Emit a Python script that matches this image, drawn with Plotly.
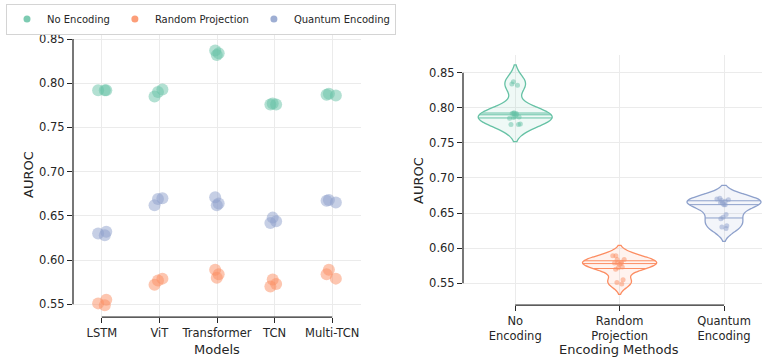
import numpy as np
import plotly.graph_objects as go

# ---------------- data ----------------
models = ["LSTM", "ViT", "Transformer", "TCN", "Multi-TCN"]
encodings = ["No Encoding", "Random Projection", "Quantum Encoding"]
encoding_tick_labels = ["No<br>Encoding", "Random<br>Projection", "Quantum<br>Encoding"]

# AUROC per model (3 runs each), in the order of `models`
auroc_no_encoding = [
    [0.792, 0.792, 0.792],
    [0.793, 0.790, 0.785],
    [0.832, 0.837, 0.834],
    [0.776, 0.777, 0.776],
    [0.786, 0.787, 0.788],
]
auroc_random_projection = [
    [0.555, 0.549, 0.551],
    [0.579, 0.577, 0.572],
    [0.589, 0.580, 0.584],
    [0.578, 0.570, 0.573],
    [0.589, 0.584, 0.579],
]
auroc_quantum_encoding = [
    [0.628, 0.632, 0.630],
    [0.669, 0.670, 0.662],
    [0.671, 0.664, 0.662],
    [0.642, 0.648, 0.644],
    [0.668, 0.667, 0.665],
]
auroc_ticks = [0.55, 0.60, 0.65, 0.70, 0.75, 0.80, 0.85]

series = [auroc_no_encoding, auroc_random_projection, auroc_quantum_encoding]
colors = ["#66c2a5", "#fc8d62", "#8da0cb"]
fills = ["rgba(102,194,165,0.10)", "rgba(252,141,98,0.10)", "rgba(141,160,203,0.10)"]

W, H = 762, 358
FONT = "DejaVu Sans"
INK = "#262626"
GRID = "#ebebeb"

fig = go.Figure()

# ---------------- left: strip plot ----------------
for enc, vals, col in zip(encodings, series, colors):
    xs = [i for i, v in enumerate(vals) for _ in v]
    ys = [y for v in vals for y in v]
    fig.add_trace(go.Box(
        x=xs, y=ys, boxpoints="all", jitter=0.5, pointpos=0, width=0.4,
        fillcolor="rgba(0,0,0,0)", line=dict(color="rgba(0,0,0,0)", width=0),
        marker=dict(color=col, size=12, opacity=0.5, line=dict(width=0)),
        showlegend=False, hoverinfo="skip", xaxis="x", yaxis="y",
    ))

# legend entries
for enc, col in zip(encodings, colors):
    fig.add_trace(go.Scatter(
        x=[None], y=[None], mode="markers", name=enc,
        marker=dict(color=col, size=7, opacity=0.85),
        xaxis="x", yaxis="y",
    ))

# ---------------- right: violins ----------------
VW = 0.71
for j, (vals, col, fc) in enumerate(zip(series, colors, fills)):
    ys = np.array([y for v in vals for y in v])
    n = len(ys)
    bw = np.std(ys, ddof=1) * n ** (-1 / 5)
    fig.add_trace(go.Violin(
        x=[j] * n, y=ys, width=VW, scalemode="width", bandwidth=bw,
        spanmode="soft", points="all", jitter=0.2, pointpos=0,
        marker=dict(color=col, size=5, opacity=0.5),
        line=dict(color=col, width=1.3), fillcolor=fc,
        box_visible=False, meanline_visible=False,
        showlegend=False, hoverinfo="skip", xaxis="x2", yaxis="y2",
    ))
    # quartile lines spanning the KDE width
    grid = np.linspace(ys.min() - 2 * bw, ys.max() + 2 * bw, 600)

    def kde(p):
        return np.exp(-0.5 * ((p[:, None] - ys[None, :]) / bw) ** 2).sum(axis=1)

    dmax = kde(grid).max()
    qs = np.percentile(ys, [25, 50, 75])
    for q in qs:
        half = VW / 2 * kde(np.array([q]))[0] / dmax
        fig.add_trace(go.Scatter(
            x=[j - half, j + half], y=[q, q], mode="lines",
            line=dict(color=col, width=1), showlegend=False,
            hoverinfo="skip", xaxis="x2", yaxis="y2",
        ))

# ---------------- layout ----------------
def px_x(p):
    return p / W

def px_y(p):
    return 1 - p / H

tickfont = dict(family=FONT, size=11.5, color=INK)
titlefont = dict(family=FONT, size=13, color=INK)
common_axis = dict(
    showgrid=True, gridcolor=GRID, gridwidth=1, zeroline=False, showline=False,
    ticks="outside", ticklen=5, tickwidth=1.2, tickcolor=INK, tickfont=tickfont,
    automargin=False,
)

fig.update_layout(
    width=W, height=H, margin=dict(l=0, r=0, t=0, b=0),
    paper_bgcolor="white", plot_bgcolor="white",
    font=dict(family=FONT, color=INK),
    boxmode="overlay", violinmode="overlay",
    xaxis=dict(
        common_axis, domain=[px_x(73), px_x(361)], range=[-0.5, len(models) - 0.5],
        tickmode="array", tickvals=list(range(len(models))), ticktext=models, anchor="y",
    ),
    yaxis=dict(
        common_axis, domain=[px_y(317), px_y(33)], range=[0.5356, 0.8568],
        tickmode="array", tickvals=auroc_ticks, tickformat=".2f", anchor="x",
    ),
    xaxis2=dict(
        common_axis, domain=[px_x(463), 1.0], range=[-0.5, 2.364],
        tickmode="array", tickvals=list(range(len(encodings))), ticktext=encoding_tick_labels,
        anchor="y2",
    ),
    yaxis2=dict(
        common_axis, domain=[px_y(305), px_y(55)], range=[0.519, 0.8752],
        tickmode="array", tickvals=auroc_ticks, tickformat=".2f", anchor="x2",
    ),
    legend=dict(
        orientation="h", x=px_x(6), y=px_y(19), xanchor="left", yanchor="middle",
        font=dict(family=FONT, size=10, color=INK),
        bgcolor="white", bordercolor="#d4d4d4", borderwidth=1,
    ),
)

# axis titles
titles = [
    ("Models", 217, 349, 0),
    ("Encoding Methods", 619, 349, 0),
    ("AUROC", 28, 175, -90),
    ("AUROC", 418, 180, -90),
]
fig.update_layout(annotations=[
    dict(text=t, x=px_x(x), y=px_y(y), xref="paper", yref="paper",
         xanchor="center", yanchor="middle", showarrow=False, textangle=a,
         font=titlefont)
    for t, x, y, a in titles
])

# trimmed spines (seaborn despine(trim=True) look)
spine = dict(color=INK, width=1.25)
shapes = [
    dict(type="line", xref="x domain", x0=0, x1=0, yref="y", y0=min(auroc_ticks), y1=max(auroc_ticks), line=spine),
    dict(type="line", xref="x", x0=0, x1=len(models) - 1, yref="y domain", y0=0, y1=0, line=spine),
    dict(type="line", xref="x2 domain", x0=0, x1=0, yref="y2", y0=min(auroc_ticks), y1=max(auroc_ticks), line=spine),
    dict(type="line", xref="x2", x0=0, x1=len(encodings) - 1, yref="y2 domain", y0=0, y1=0, line=spine),
]
fig.update_layout(shapes=shapes)

fig.write_html("out.html", config={"displayModeBar": False},
               post_script="document.body.style.margin='0px';")
